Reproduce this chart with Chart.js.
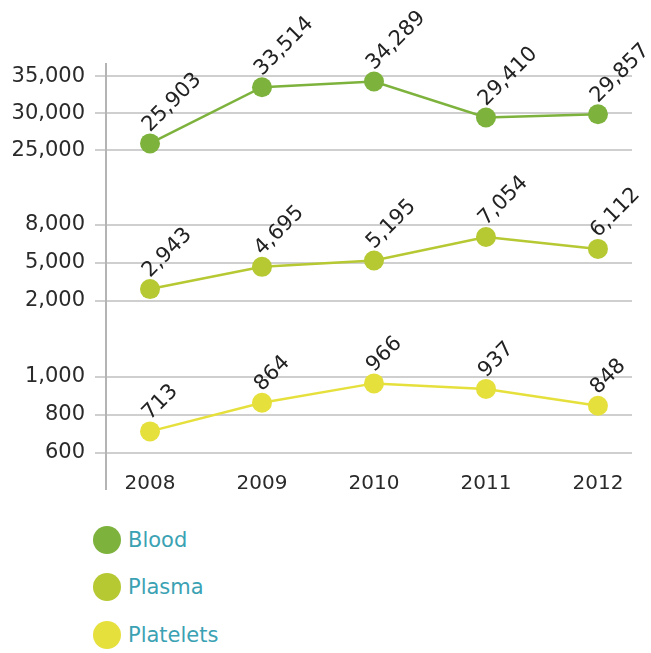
<!DOCTYPE html>
<html>
<head>
<meta charset="utf-8">
<script src="https://cdn.jsdelivr.net/npm/chart.js@4/dist/chart.umd.min.js"></script>
<style>
  body { margin:0; background:#fff; }
  #wrap { position:relative; width:651px; height:498px; }
  #legend { margin-left:93px; margin-top:18px; font-family:"DejaVu Sans", Verdana, sans-serif; font-size:21px; color:#3ba2b3; }
  #legend .item { display:flex; align-items:center; height:47.5px; }
  #legend .dot { width:28px; height:28px; border-radius:50%; margin-right:7px; }
</style>
</head>
<body>
<div id="wrap"><canvas id="c" width="651" height="498"></canvas></div>
<div id="legend"></div>
<script>
// ============ 献血数据 2008-2012 ============
const YEARS = [2008, 2009, 2010, 2011, 2012];
const BLOOD = [25903, 33514, 34289, 29410, 29857];
const PLASMA = [2943, 4695, 5195, 7054, 6112];
const PLATELETS = [713, 864, 966, 937, 848];
const SERIES_NAMES = ['Blood', 'Plasma', 'Platelets'];
const SERIES_COLORS = ['#7db23c', '#b6c832', '#e6e03c'];

// tick values shown on each of the three stacked axes
const BLOOD_TICKS = [25000, 30000, 35000];
const PLASMA_TICKS = [2000, 5000, 8000];
const PLATELET_TICKS = [600, 800, 1000];

const FONT = '"DejaVu Sans", Verdana, sans-serif';
const fmt = v => v.toLocaleString('en-US');

function ds(label, values, color, axis) {
  return {
    label, yAxisID: axis,
    data: values.map((v, i) => ({x: YEARS[i], y: v})),
    borderColor: color, backgroundColor: color,
    borderWidth: 2.5, pointRadius: 10, pointHoverRadius: 10,
    pointBorderWidth: 0, tension: 0
  };
}

function yAxis(min, max, ticks, weight) {
  return {
    type: 'linear', position: 'left', stack: 'left', stackWeight: weight,
    min, max,
    afterBuildTicks: s => { s.ticks = ticks.map(v => ({value: v})); },
    afterFit: s => { s.width = 106; },
    border: {display: false},
    grid: {color: '#cfcfcf', lineWidth: 2, tickLength: 11},
    ticks: {color: '#2a2a2a', font: {family: FONT, size: 21}, padding: 10, callback: v => fmt(v)}
  };
}

// value labels, rotated up-right above each point
const valueLabels = {
  id: 'valueLabels',
  afterDatasetsDraw(chart) {
    const ctx = chart.ctx;
    ctx.save();
    ctx.fillStyle = '#222';
    ctx.font = '21px ' + FONT;
    ctx.textAlign = 'left';
    ctx.textBaseline = 'alphabetic';
    chart.data.datasets.forEach((d, di) => {
      chart.getDatasetMeta(di).data.forEach((pt, i) => {
        ctx.save();
        ctx.translate(pt.x, pt.y - 11);
        ctx.rotate(-Math.PI / 4);
        ctx.fillText(fmt(d.data[i].y), 0, 0);
        ctx.restore();
      });
    });
    ctx.restore();
  }
};

// vertical axis line, running a little past the plot bottom
const axisLine = {
  id: 'axisLine',
  afterDraw(chart) {
    const {ctx, chartArea} = chart;
    ctx.save();
    ctx.strokeStyle = '#b4b4b4';
    ctx.lineWidth = 2;
    ctx.beginPath();
    ctx.moveTo(chartArea.left, chartArea.top);
    ctx.lineTo(chartArea.left, chartArea.bottom + 22);
    ctx.stroke();
    ctx.restore();
  }
};

new Chart(document.getElementById('c'), {
  type: 'line',
  data: {
    datasets: [
      ds(SERIES_NAMES[0], BLOOD, SERIES_COLORS[0], 'yBlood'),
      ds(SERIES_NAMES[1], PLASMA, SERIES_COLORS[1], 'yPlasma'),
      ds(SERIES_NAMES[2], PLATELETS, SERIES_COLORS[2], 'yPlatelets')
    ]
  },
  options: {
    responsive: false, animation: false,
    layout: {padding: {top: 63, right: 19, left: 0, bottom: 0}},
    plugins: {legend: {display: false}, tooltip: {enabled: false}},
    scales: {
      x: {
        type: 'linear', min: 2007.607, max: 2012.304,
        afterBuildTicks: s => { s.ticks = YEARS.map(v => ({value: v})); },
        afterFit: s => { s.height = 30; },
        grid: {display: false}, border: {display: false},
        ticks: {color: '#2a2a2a', font: {family: FONT, size: 20}, padding: -4, callback: v => String(v)}
      },
      yPlatelets: yAxis(520, 1200, PLATELET_TICKS, 129),
      yPlasma: yAxis(-1000, 11000, PLASMA_TICKS, 152),
      yBlood: yAxis(20000, 36800, BLOOD_TICKS, 124)
    }
  },
  plugins: [valueLabels, axisLine]
});

// legend
const leg = document.getElementById('legend');
SERIES_NAMES.forEach((name, i) => {
  const it = document.createElement('div');
  it.className = 'item';
  it.innerHTML = '<span class="dot" style="background:' + SERIES_COLORS[i] + '"></span><span>' + name + '</span>';
  leg.appendChild(it);
});
</script>
</body>
</html>
